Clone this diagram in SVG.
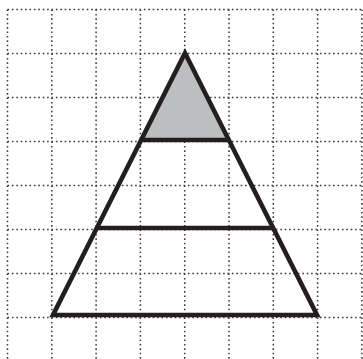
<svg xmlns="http://www.w3.org/2000/svg" width="363" height="359" viewBox="0 0 363 359">
<style>
.grid{stroke:#3a3a3a;stroke-width:1.5;stroke-dasharray:1.6 2.8;fill:none}
.edge{stroke:#231f20;stroke-width:4.6;fill:none;stroke-linejoin:miter;stroke-miterlimit:10}
</style>
<rect width="363" height="359" fill="#fff"/>
<g id="grid" class="grid">
<path d="M7.5 9.5V359M51.8 9.5V359M96.1 9.5V359M140.4 9.5V359M184.7 9.5V359M229 9.5V359M273.3 9.5V359M317.6 9.5V359M361.9 9.5V359"/>
<path d="M7.5 9.5H363M7.5 53.5H363M7.5 97.5H363M7.5 141.5H363M7.5 185.5H363M7.5 229.5H363M7.5 273.5H363M7.5 317.5H363"/>
</g>
<g id="top-section"><path d="M185 53 L141.2 140 L228.8 140 Z" fill="#bcbec0"/></g>
<g id="triangle"><path class="edge" d="M185 53 L53 315 L317 315 Z"/></g>
<g id="connectors">
<path class="edge" d="M141.2 140 H228.8"/>
<path class="edge" d="M97 228 H273"/>
</g>
</svg>
